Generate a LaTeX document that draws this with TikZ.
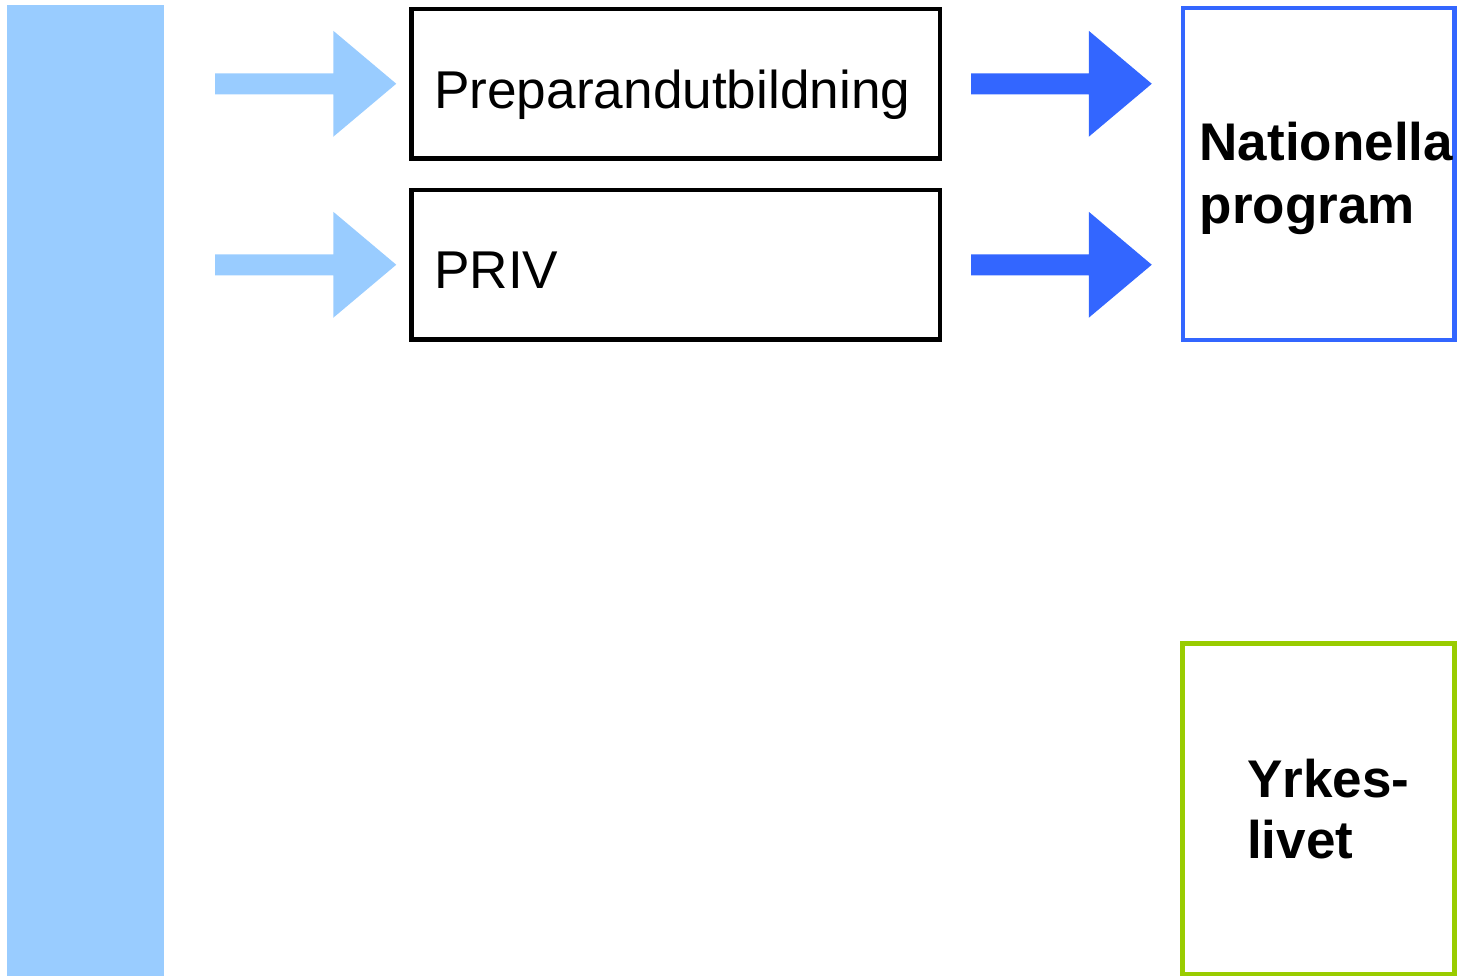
\documentclass[tikz,border=0pt]{standalone}
\usepackage{fontspec}
\setmainfont{Liberation Sans}
\usetikzlibrary{calc}
\definecolor{lblue}{HTML}{99CCFF}
\definecolor{dblue}{HTML}{3366FF}
\definecolor{lgreen}{HTML}{99CC00}
\newcommand\blockarrow[3]{%
  \fill[#3] let \p1=(#1), \p2=(#2) in
  (\x1,\y1+10.5pt) -- (\x2-63pt,\y1+10.5pt) -- (\x2-63pt,\y1+53pt) -- (\x2,\y1)
  -- (\x2-63pt,\y1-53pt) -- (\x2-63pt,\y1-10.5pt) -- (\x1,\y1-10.5pt) -- cycle;}
\begin{document}
\begin{tikzpicture}[x=1pt,y=-1pt,
  box/.style={draw, line width=4.5pt, inner sep=0pt},
  lbl/.style={inner sep=0pt, anchor=base west, font=\fontsize{53.2}{62}\selectfont, align=left}]
\useasboundingbox (0,0) rectangle (1462,975);
\node[fill=lblue, inner sep=0pt, outer sep=0pt, minimum width=156.7pt, minimum height=972pt, anchor=north west] (bar) at (7.3,5) {};
\node[box, minimum width=528.5pt, minimum height=149.5pt] (prep) at (675.75,83.75) {};
\node[box, minimum width=528.5pt, minimum height=149.5pt] (priv) at (675.75,264.75) {};
\node[box, draw=dblue, line width=4.5pt, minimum width=271.5pt, minimum height=332pt] (nat) at (1318.75,174) {};
\node[box, draw=lgreen, line width=5pt, minimum width=272pt, minimum height=331pt] (yrk) at (1318.5,808.5) {};
\node[lbl] (tprep) at (434,108) {Preparandutbildning};
\node[lbl] (tpriv) at (434,288) {PRIV};
\node[lbl, font=\fontsize{53}{63.5}\selectfont\bfseries] (tnat) at (1199.5,223.5) {Nationella\\program};
\node[lbl, font=\fontsize{53}{61}\selectfont\bfseries] (tyrk) at (1247,858) {Yrkes-\\livet};
\coordinate (s1) at ($(bar.east |- prep.center)+(51,0)$);
\coordinate (e1) at ($(prep.west)+(-13,0)$);
\coordinate (s2) at ($(bar.east |- priv.center)+(51,0)$);
\coordinate (e2) at ($(priv.west)+(-13,0)$);
\coordinate (s3) at ($(prep.east)+(28.75,0)$);
\coordinate (e3) at ($(nat.west |- prep.center)+(-29,0)$);
\coordinate (s4) at ($(priv.east)+(28.75,0)$);
\coordinate (e4) at ($(nat.west |- priv.center)+(-29,0)$);
\blockarrow{s1}{e1}{lblue}
\blockarrow{s2}{e2}{lblue}
\blockarrow{s3}{e3}{dblue}
\blockarrow{s4}{e4}{dblue}
\end{tikzpicture}
\end{document}
